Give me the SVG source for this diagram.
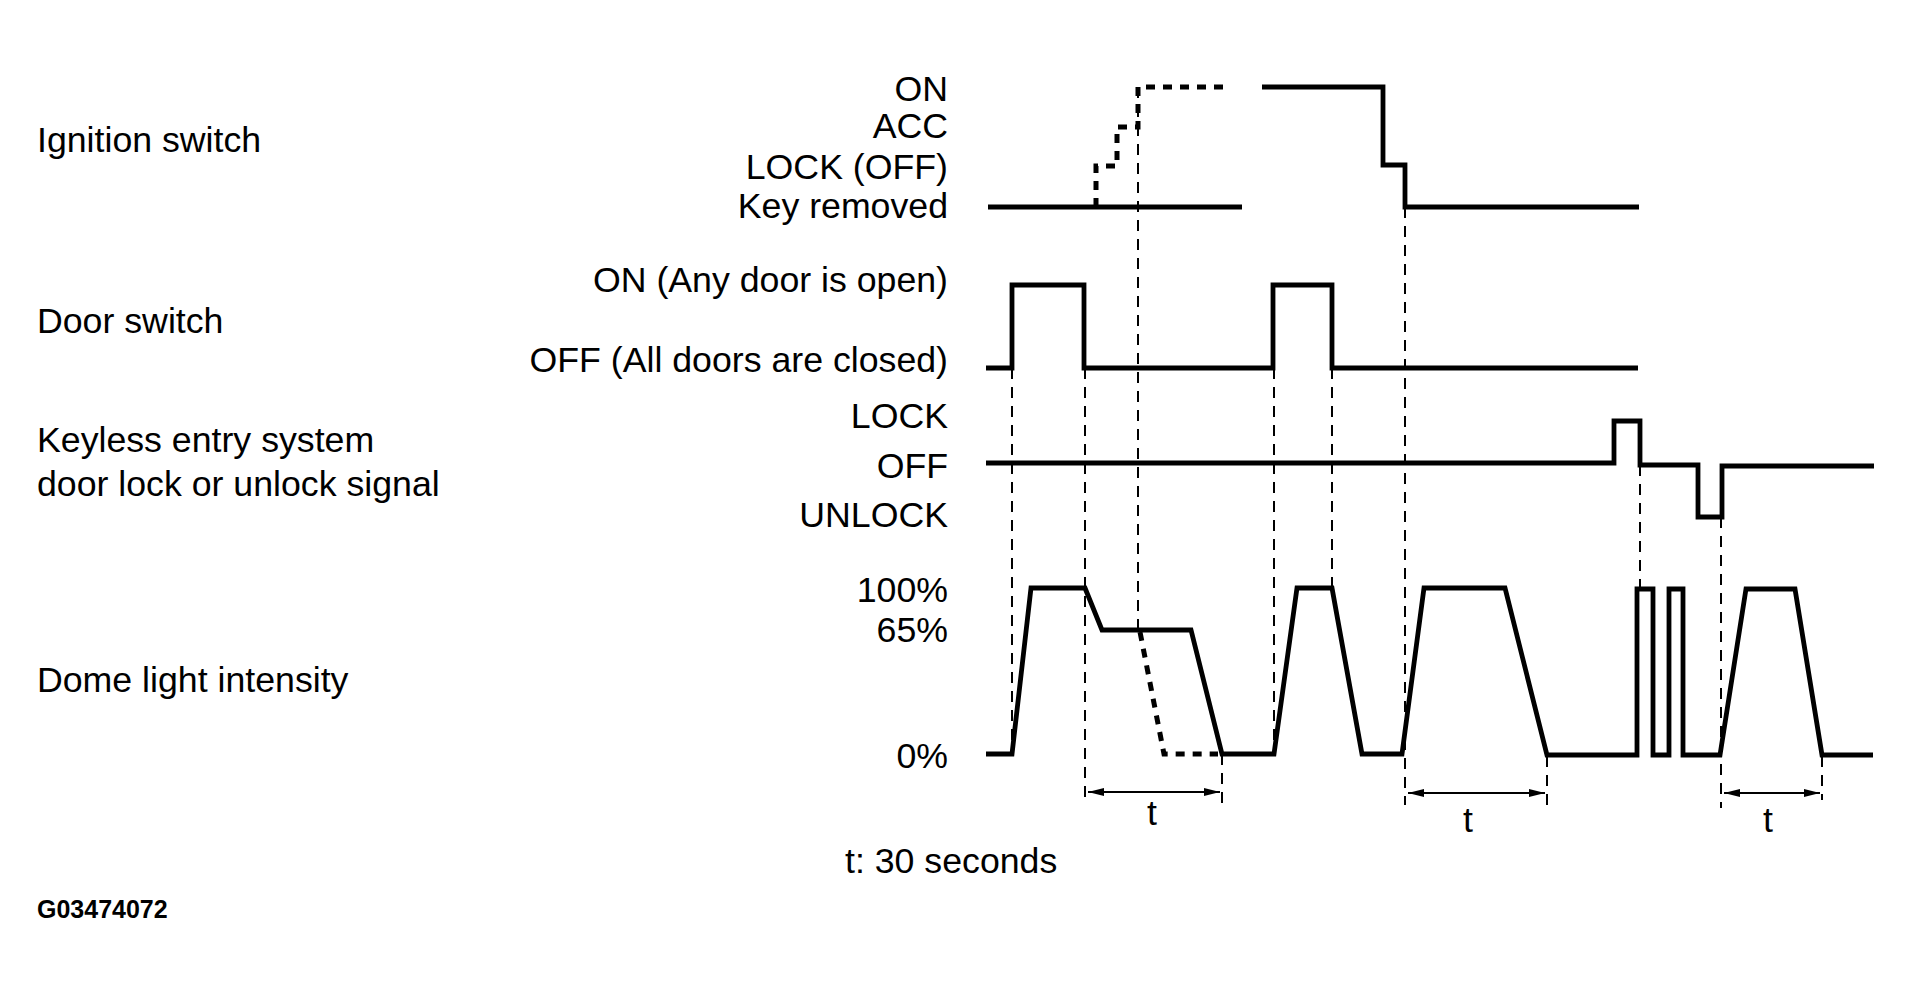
<svg xmlns="http://www.w3.org/2000/svg" width="1912" height="994" viewBox="0 0 1912 994">
<style>
text{font-family:"Liberation Sans",Arial,sans-serif;font-size:35.7px;fill:#000}
.r{text-anchor:end}
.c{text-anchor:middle}
.sig{fill:none;stroke:#000;stroke-width:4.8;stroke-linejoin:miter;stroke-linecap:butt}
.dot{fill:none;stroke:#000;stroke-width:5;stroke-dasharray:9 8}
.guide{fill:none;stroke:#000;stroke-width:2;stroke-dasharray:11 8}
.dim{fill:none;stroke:#000;stroke-width:2.2}
.code{font-size:25px;font-weight:bold}
</style>
<defs>
<marker id="ah" viewBox="0 0 16 10" refX="16" refY="5" markerWidth="16" markerHeight="10" markerUnits="userSpaceOnUse" orient="auto-start-reverse">
<path d="M0,1 L16,5 L0,9 Z" fill="#000"/>
</marker>
</defs>
<rect width="1912" height="994" fill="#fff"/>

<g id="row-labels">
<text x="37" y="152">Ignition switch</text>
<text x="37" y="333">Door switch</text>
<text x="37" y="452">Keyless entry system</text>
<text x="37" y="496">door lock or unlock signal</text>
<text x="37" y="692">Dome light intensity</text>
</g>

<g id="level-labels">
<text class="r" x="948" y="101">ON</text>
<text class="r" x="948" y="138">ACC</text>
<text class="r" x="948" y="179">LOCK (OFF)</text>
<text class="r" x="948" y="218">Key removed</text>
<text class="r" x="948" y="292">ON (Any door is open)</text>
<text class="r" x="948" y="372">OFF (All doors are closed)</text>
<text class="r" x="948" y="428">LOCK</text>
<text class="r" x="948" y="478">OFF</text>
<text class="r" x="948" y="527">UNLOCK</text>
<text class="r" x="948" y="602">100%</text>
<text class="r" x="948" y="642">65%</text>
<text class="r" x="948" y="768">0%</text>
</g>

<g id="ignition-switch">
<path class="sig" d="M988,207 H1242"/>
<path class="dot" d="M1096,207 V166 H1117 V127 H1138 V87 H1230"/>
<path class="sig" d="M1262,87 H1383 V165 H1405 V207 H1639"/>
</g>

<g id="door-switch">
<path class="sig" d="M986,368 H1012 V285 H1084 V368 H1273 V285 H1332 V368 H1638"/>
</g>

<g id="keyless-signal">
<path class="sig" d="M986,463 H1614 V421 H1640 V465 H1698 V517 H1722 V466 H1874"/>
</g>

<g id="dome-light">
<path class="sig" d="M986,754 H1012 L1031,588 H1085 L1102,630 H1191 L1222,754 H1274 L1297,588 H1332 L1362,754 H1402 L1424,588 H1505 L1547,755 H1637 V589 H1653 V755 H1669 V589 H1683 V755 H1720 L1746,589 H1795 L1822,755 H1873"/>
<path class="dot" d="M1140,632 L1164,754 H1218"/>
</g>

<g id="connectors">
<path class="guide" d="M1012,368 V754"/>
<path class="guide" d="M1085,368 V805"/>
<path class="guide" d="M1138,87 V630"/>
<path class="guide" d="M1274,368 V754"/>
<path class="guide" d="M1332,368 V588"/>
<path class="guide" d="M1405,207 V805"/>
<path class="guide" d="M1640,465 V589"/>
<path class="guide" d="M1721,517 V808"/>
<path class="guide" d="M1222,754 V805"/>
<path class="guide" d="M1547,756 V808"/>
<path class="guide" d="M1822,756 V800"/>
<path class="dim" d="M1088,792 H1220" marker-start="url(#ah)" marker-end="url(#ah)"/>
<path class="dim" d="M1408,793 H1545" marker-start="url(#ah)" marker-end="url(#ah)"/>
<path class="dim" d="M1724,793 H1820" marker-start="url(#ah)" marker-end="url(#ah)"/>
</g>

<g id="time-labels">
<text class="c" x="1152" y="825">t</text>
<text class="c" x="1468" y="832">t</text>
<text class="c" x="1768" y="832">t</text>
<text x="845" y="873">t: 30 seconds</text>
<text class="code" x="37" y="918">G03474072</text>
</g>
</svg>
